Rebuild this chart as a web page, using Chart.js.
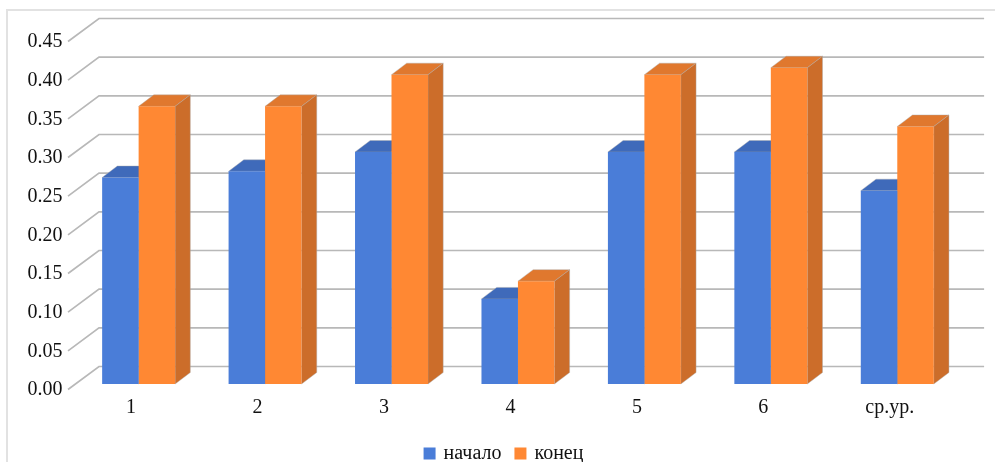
<!DOCTYPE html>
<html>
<head>
<meta charset="utf-8">
<style>
  html, body { margin: 0; padding: 0; background: #fff; overflow: hidden; }
  #wrap { position: relative; width: 995px; height: 462px; }
  #frame { position: absolute; left: 6px; top: 9px; right: 0; bottom: 0; border-left: 2px solid #e2e2e2; border-top: 2px solid #e2e2e2; }
  canvas { position: absolute; left: 0; top: 0; }
</style>
<script src="https://cdn.jsdelivr.net/npm/chart.js@4"></script>
</head>
<body>
<div id="wrap">
  <div id="frame"></div>
  <canvas id="chart" width="995" height="462"></canvas>
</div>
<script>
const categories = ['1', '2', '3', '4', '5', '6', 'ср.ур.'];
const startValues = [0.267, 0.275, 0.30, 0.11, 0.30, 0.30, 0.25];
const endValues = [0.359, 0.359, 0.40, 0.133, 0.40, 0.409, 0.333];

const FONT = '"Liberation Serif", "Times New Roman", serif';

// fake 3D look of the original: back wall and bar depth
const wall = { dx: 23.6, dy: -17.5, frontDx: -7.4, frontDy: 5.5 };
const depth = { dx: 15.2, dy: -11.5 };
const faces = [
  { top: '#3F6ABA', side: '#3B62AC' },
  { top: '#E0782E', side: '#CC6D2A' }
];

const threeD = {
  id: 'threeD',
  afterLayout(chart) {
    // tick labels are clipped to the scale box, let it reach the canvas edge
    chart.scales.y.left = 0;
  },
  beforeDatasetsDraw(chart) {
    const ctx = chart.ctx;
    const { left, right } = chart.chartArea;
    const yScale = chart.scales.y;

    // walls
    ctx.save();
    ctx.strokeStyle = '#b8b8b8';
    ctx.lineWidth = 1.7;
    yScale.ticks.forEach(t => {
      const y = yScale.getPixelForValue(t.value);
      ctx.beginPath();
      ctx.moveTo(left + wall.frontDx, y + wall.frontDy);
      ctx.lineTo(left + wall.dx, y + wall.dy);
      ctx.lineTo(right + wall.dx, y + wall.dy);
      ctx.stroke();
    });
    ctx.restore();

    // top and side of every bar, the fronts are drawn by the library afterwards
    chart.data.datasets.forEach((ds, i) => {
      chart.getDatasetMeta(i).data.forEach(bar => {
        const x0 = bar.x - bar.width / 2;
        const x1 = bar.x + bar.width / 2;
        const yt = bar.y;
        const yb = bar.base;
        ctx.save();
        ctx.strokeStyle = 'rgba(170,170,170,0.7)';
        ctx.lineWidth = 0.6;
        ctx.fillStyle = faces[i].top;
        ctx.beginPath();
        ctx.moveTo(x0, yt);
        ctx.lineTo(x0 + depth.dx, yt + depth.dy);
        ctx.lineTo(x1 + depth.dx, yt + depth.dy);
        ctx.lineTo(x1, yt);
        ctx.closePath();
        ctx.fill();
        ctx.stroke();
        ctx.fillStyle = faces[i].side;
        ctx.beginPath();
        ctx.moveTo(x1, yt);
        ctx.lineTo(x1 + depth.dx, yt + depth.dy);
        ctx.lineTo(x1 + depth.dx, yb + depth.dy);
        ctx.lineTo(x1, yb);
        ctx.closePath();
        ctx.fill();
        ctx.stroke();
        ctx.restore();
      });
    });
  }
};

new Chart(document.getElementById('chart'), {
  type: 'bar',
  plugins: [threeD],
  data: {
    labels: categories,
    datasets: [
      { label: 'начало', data: startValues, backgroundColor: '#4A7DD8', borderWidth: 0 },
      { label: 'конец', data: endValues, backgroundColor: '#FF8833', borderWidth: 0 }
    ]
  },
  options: {
    responsive: false,
    animation: false,
    layout: { padding: { left: 48.5, right: 34.5, top: 36, bottom: -11.4 } },
    datasets: { bar: { categoryPercentage: 0.577, barPercentage: 1 } },
    scales: {
      x: {
        grid: { display: false, drawTicks: false },
        border: { display: false },
        ticks: { color: '#111', font: { family: FONT, size: 20 }, padding: 11.5, labelOffset: -7.5, maxRotation: 0, autoSkip: false },
        afterFit(scale) { scale.height = 44.4; }
      },
      y: {
        min: 0,
        max: 0.45,
        grid: { display: false, drawTicks: false },
        border: { display: false },
        ticks: {
          stepSize: 0.05,
          color: '#111',
          font: { family: FONT, size: 20 },
          padding: 13,
          labelOffset: 6,
          callback: v => v.toFixed(2)
        },
        afterFit(scale) { scale.width = 26.9; }
      }
    },
    plugins: {
      tooltip: { enabled: false },
      legend: {
        position: 'bottom',
        labels: {
          color: '#111',
          font: { family: FONT, size: 20, lineHeight: 1 },
          usePointStyle: true,
          pointStyle: 'rect',
          boxWidth: 8,
          boxHeight: 12,
          padding: 15
        }
      }
    }
  }
});
</script>
</body>
</html>
